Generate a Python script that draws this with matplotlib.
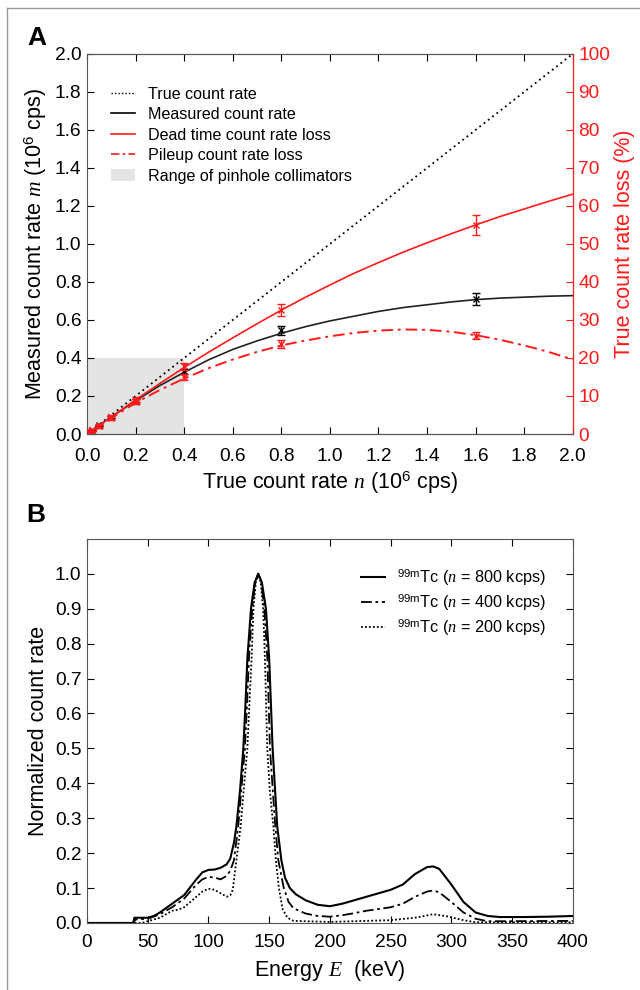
import numpy as np
import matplotlib
matplotlib.use('Agg')
import matplotlib.pyplot as plt
from matplotlib.lines import Line2D
from matplotlib.patches import Patch

plt.rcParams['font.family'] = ['Liberation Sans', 'DejaVu Sans']
plt.rcParams['mathtext.fontset'] = 'custom'
plt.rcParams['mathtext.rm'] = 'Liberation Sans'
plt.rcParams['mathtext.it'] = 'Liberation Serif:italic'

# ---- Panel A: count rate data ----
n_pts = [0.01, 0.02, 0.05, 0.1, 0.2, 0.4, 0.8, 1.6]
m_pts = [0.0095, 0.019, 0.046, 0.088, 0.175, 0.33, 0.545, 0.71]
m_err = [0.002, 0.002, 0.003, 0.005, 0.008, 0.012, 0.022, 0.032]
dead_pts = [0.5, 1.0, 2.2, 4.4, 9.0, 17.8, 32.6, 55.0]
dead_err = [0.3, 0.3, 0.4, 0.5, 0.7, 1.0, 1.6, 2.7]
pile_pts = [0.5, 1.0, 2.1, 4.2, 8.5, 15.0, 23.7, 25.9]
pile_err = [0.3, 0.3, 0.4, 0.5, 0.6, 0.8, 1.0, 1.0]

n_curve = [0.0, 0.1, 0.2, 0.3, 0.4, 0.5, 0.6, 0.7, 0.8, 0.9, 1.0,
           1.1, 1.2, 1.3, 1.4, 1.5, 1.6, 1.7, 1.8, 1.9, 2.0]
m_curve = [0, 0.09, 0.175, 0.255, 0.325, 0.39, 0.445, 0.49, 0.53, 0.565, 0.595,
           0.62, 0.645, 0.665, 0.68, 0.695, 0.707, 0.715, 0.72, 0.725, 0.728]
dead_curve = [0, 4.5, 9.0, 13.3, 17.5, 21.5, 25.3, 29.0, 32.6, 36.0, 39.2,
              42.3, 45.1, 47.8, 50.3, 52.7, 55.0, 57.2, 59.2, 61.2, 63.1]
pile_curve = [0, 4.2, 8.2, 11.6, 14.6, 17.3, 19.6, 21.6, 23.3, 24.6, 25.7,
              26.6, 27.2, 27.5, 27.4, 26.9, 26.0, 24.8, 23.3, 21.6, 19.6]

# ---- Panel B: energy spectra ----
E_800 = [0, 38, 39, 50, 55, 60, 70, 80, 90, 95, 100, 105, 110, 115, 118, 121, 123, 126,
         128.7, 130.5, 132, 135, 138, 141, 144, 147.3, 150, 152.8, 156.6, 160, 163, 167,
         172, 180, 190, 200, 210, 220, 230, 240, 250, 260, 270, 280, 285, 290, 300, 310,
         320, 330, 340, 360, 380, 400]
c_800 = [0, 0, 0.015, 0.015, 0.02, 0.03, 0.055, 0.08, 0.125, 0.145, 0.152, 0.153, 0.158,
         0.168, 0.185, 0.23, 0.277, 0.38, 0.5, 0.63, 0.756, 0.9, 0.975, 1.0, 0.975, 0.9,
         0.756, 0.5, 0.277, 0.18, 0.13, 0.1, 0.082, 0.065, 0.052, 0.048, 0.055, 0.065,
         0.075, 0.085, 0.095, 0.11, 0.14, 0.16, 0.162, 0.155, 0.11, 0.06, 0.03, 0.02,
         0.017, 0.017, 0.018, 0.02]

E_400 = [0, 38, 40, 50, 60, 70, 80, 90, 95, 100, 105, 110, 115, 118, 121, 124.5, 127, 130,
         131.8, 133.3, 136, 138.5, 141, 143.5, 146, 148.5, 150.6, 155, 157.5, 162, 166,
         170, 180, 190, 200, 210, 220, 230, 240, 250, 260, 270, 280, 285, 290, 300, 310,
         320, 330, 340, 400]
c_400 = [0, 0, 0.01, 0.012, 0.025, 0.045, 0.07, 0.11, 0.125, 0.132, 0.13, 0.125, 0.135,
         0.15, 0.18, 0.277, 0.38, 0.5, 0.63, 0.756, 0.9, 0.975, 1.0, 0.975, 0.9, 0.756,
         0.5, 0.277, 0.18, 0.1, 0.06, 0.042, 0.027, 0.02, 0.018, 0.022, 0.028, 0.035,
         0.04, 0.045, 0.055, 0.075, 0.09, 0.093, 0.088, 0.06, 0.03, 0.012, 0.005, 0.005,
         0.006]

E_200 = [0, 45, 50, 60, 70, 75, 80, 90, 95, 100, 105, 110, 115, 118, 120, 123, 126.5, 129,
         132, 134, 135.5, 137, 139, 141, 143, 145, 146.5, 148.4, 150.5, 153.4, 155.5, 158,
         161, 165, 170, 200, 250, 270, 285, 295, 310, 320, 400]
c_200 = [0, 0, 0.005, 0.015, 0.035, 0.038, 0.045, 0.075, 0.09, 0.098, 0.095, 0.085, 0.075,
         0.08, 0.095, 0.18, 0.277, 0.38, 0.5, 0.65, 0.756, 0.9, 0.975, 1.0, 0.975, 0.9,
         0.756, 0.5, 0.38, 0.277, 0.18, 0.1, 0.04, 0.015, 0.006, 0.003, 0.008, 0.015,
         0.025, 0.02, 0.008, 0.002, 0.002]

red = '#ff1a1a'
fig = plt.figure(figsize=(6.4, 9.9), dpi=100)

# ================= Panel A =================
ax = fig.add_axes([0.136, 0.5616, 0.759, 0.384])
ax2 = ax.twinx()

ax.fill_between([0, 0.4], 0, 0.4, color='#e4e4e4', lw=0, zorder=0)
ax.plot([0, 2], [0, 2], ls=(0, (1, 2)), color='k', lw=1.3)
ax.plot(n_curve, m_curve, color='#222222', lw=1.2)
ax.errorbar(n_pts, m_pts, yerr=m_err, fmt='x', color='k', ms=4, mew=1,
            capsize=3, elinewidth=1, capthick=1)
ax2.plot(n_curve, dead_curve, color=red, lw=1.2)
ax2.plot(n_curve, pile_curve, color=red, lw=1.4, ls=(0, (6, 2.5, 1.5, 2.5)))
ax2.errorbar(n_pts, dead_pts, yerr=dead_err, fmt='x', color=red, ms=4, mew=1,
             capsize=3, elinewidth=1, capthick=1)
ax2.errorbar(n_pts, pile_pts, yerr=pile_err, fmt='x', color=red, ms=4, mew=1,
             capsize=3, elinewidth=1, capthick=1)

ax.set_xlim(0, 2.0)
ax.set_ylim(0, 2.0)
ax2.set_ylim(0, 100)
ax.set_xticks(np.arange(0, 2.01, 0.2))
ax.set_yticks(np.arange(0, 2.01, 0.2))
ax2.set_yticks(np.arange(0, 101, 10))
ax.xaxis.set_major_formatter(plt.FormatStrFormatter('%.1f'))
ax.yaxis.set_major_formatter(plt.FormatStrFormatter('%.1f'))
ax.tick_params(direction='in', top=True, labelsize=13.8, length=5)
ax.tick_params(axis='x', pad=10)
ax.tick_params(axis='y', pad=4)
ax2.tick_params(direction='in', colors=red, labelsize=13.8, length=5, pad=4)
for s in ['top', 'bottom', 'left']:
    ax.spines[s].set_color('#555555')
ax2.spines['right'].set_color(red)
ax2.spines['left'].set_visible(False)
ax2.spines['top'].set_color('#555555')
ax2.spines['bottom'].set_color('#555555')

ax.set_xlabel('True count rate $n$ (10$^{6}$ cps)', fontsize=15.5, labelpad=3)
ax.set_ylabel('Measured count rate $m$ (10$^{6}$ cps)', fontsize=15.5, labelpad=4)
ax2.set_ylabel('True count rate loss (%)', fontsize=15.5, color=red, labelpad=3)

handles = [Line2D([], [], color='k', ls=(0, (1, 1.5)), lw=1),
           Line2D([], [], color='k', lw=1.2),
           Line2D([], [], color=red, lw=1.2),
           Line2D([], [], color=red, lw=1.2, ls=(0, (5, 2, 1.5, 2))),
           Patch(facecolor='#e4e4e4', edgecolor='none')]
labels = ['True count rate', 'Measured count rate', 'Dead time count rate loss',
          'Pileup count rate loss', 'Range of pinhole collimators']
ax.legend(handles, labels, loc='upper left', bbox_to_anchor=(0.02, 0.952), frameon=False,
          fontsize=11.6, handlelength=1.5, handletextpad=0.75, labelspacing=0.34)

fig.text(0.058, 0.962, 'A', fontsize=19, fontweight='bold', ha='center', va='center')

# ================= Panel B =================
bx = fig.add_axes([0.136, 0.0677, 0.759, 0.388])
bx.plot(E_800, c_800, color='k', lw=1.5,
        label=r'$^{\mathrm{99m}}$Tc ($n$ = 800 kcps)')
bx.plot(E_400, c_400, color='k', lw=1.3, ls=(0, (6, 2, 1.5, 2)),
        label=r'$^{\mathrm{99m}}$Tc ($n$ = 400 kcps)')
bx.plot(E_200, c_200, color='k', lw=1.3, ls=(0, (1, 1.2)),
        label=r'$^{\mathrm{99m}}$Tc ($n$ = 200 kcps)')
bx.set_xlim(0, 400)
bx.set_ylim(0, 1.1)
bx.set_xticks(np.arange(0, 401, 50))
bx.set_yticks(np.arange(0, 1.01, 0.1))
bx.yaxis.set_major_formatter(plt.FormatStrFormatter('%.1f'))
bx.tick_params(direction='in', top=True, right=True, labelsize=13.8, length=5)
bx.tick_params(axis='x', pad=8)
bx.tick_params(axis='y', pad=4)
for s in bx.spines.values():
    s.set_color('#555555')
bx.set_xlabel('Energy $E$  (keV)', fontsize=15.5, labelpad=5)
bx.set_ylabel('Normalized count rate', fontsize=15.5, labelpad=4)
bx.legend(loc='upper right', bbox_to_anchor=(0.975, 0.965), frameon=False, fontsize=11.7,
          handlelength=1.5, handletextpad=0.75, labelspacing=0.25)

fig.text(0.056, 0.48, 'B', fontsize=19, fontweight='bold', ha='center', va='center')

# outer frame lines
fig.add_artist(Line2D([0.011, 0.011], [0, 0.992], color='#999999', lw=1))
fig.add_artist(Line2D([0.011, 1.0], [0.992, 0.992], color='#999999', lw=1))

fig.savefig('out.png', dpi=100)
